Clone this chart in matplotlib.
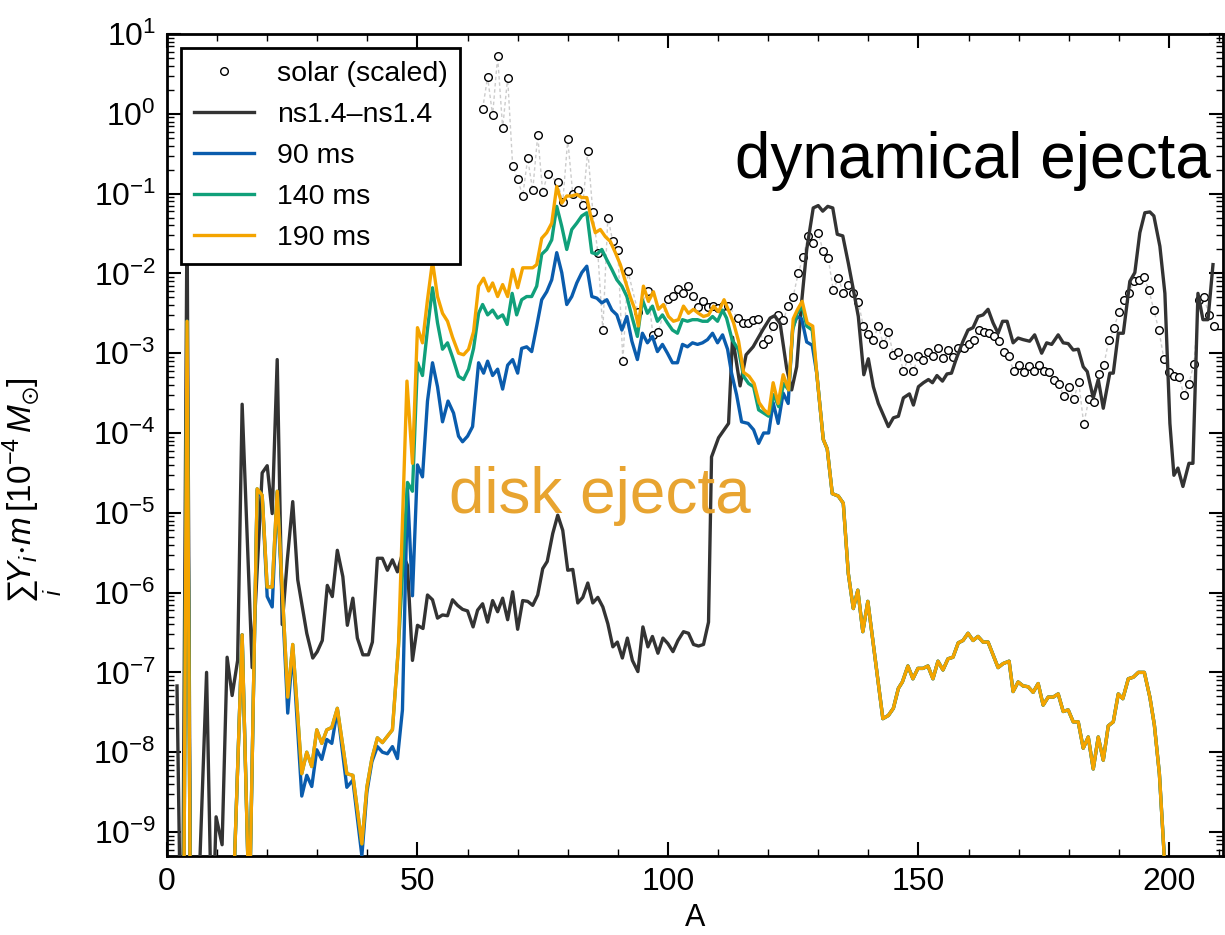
import numpy as np
import matplotlib
matplotlib.use("Agg")
import matplotlib.pyplot as plt
from matplotlib.ticker import MultipleLocator, LogLocator, NullFormatter

plt.rcParams['font.family'] = 'Liberation Sans'
plt.rcParams['mathtext.fontset'] = 'custom'
plt.rcParams['mathtext.rm'] = 'Liberation Sans'
plt.rcParams['mathtext.it'] = 'Liberation Sans:italic'
plt.rcParams['mathtext.bf'] = 'Liberation Sans:bold'
plt.rcParams['mathtext.fallback'] = 'stixsans'

# ---- abundance data (log10 of summed yields) ----
# solar r-process pattern, scaled
solar_A = [63, 64, 65, 66, 67, 68, 69, 70, 71, 72, 73, 74, 75, 76, 78, 79, 80, 81, 82, 83,
           84, 85, 86, 87, 88, 89, 90, 91, 92, 94, 96, 97, 98, 100, 101, 102, 103, 104, 105,
           106, 107, 108, 109, 110, 111, 112, 114, 115, 116, 117, 118, 119, 120, 121, 122,
           123, 124, 125, 126, 127, 128, 129, 130, 131, 132, 133, 134, 135, 136, 137, 138,
           139, 140, 141, 142, 143, 144, 145, 146, 147, 148, 149, 150, 151, 152, 153, 154,
           155, 156, 157, 158, 159, 160, 161, 162, 163, 164, 165, 166, 167, 168, 169, 170,
           171, 172, 173, 174, 175, 176, 177, 178, 179, 180, 181, 182, 183, 184, 185, 186,
           187, 188, 189, 190, 191, 192, 193, 194, 195, 196, 197, 198, 199, 200, 201, 202,
           203, 204, 205, 206, 207, 208, 209]
solar_logy = [0.06, 0.46, -0.02, 0.72, -0.18, 0.45, -0.65, -0.82, -1.03, -0.56, -0.96, -0.27,
              -0.98, -0.75, -0.86, -1.11, -0.32, -1.01, -0.95, -1.14, -0.46, -1.23, -1.74,
              -2.71, -1.30, -1.60, -1.71, -3.10, -1.97, -2.48, -2.22, -2.77, -2.74, -2.32,
              -2.28, -2.20, -2.25, -2.16, -2.28, -2.42, -2.34, -2.42, -2.41, -2.43, -2.41,
              -2.41, -2.56, -2.62, -2.62, -2.59, -2.57, -2.89, -2.82, -2.66, -2.52, -2.59,
              -2.41, -2.29, -2.00, -1.79, -1.53, -1.62, -1.50, -1.72, -1.81, -2.21, -2.06,
              -2.24, -2.14, -2.25, -2.36, -2.66, -2.76, -2.83, -2.66, -2.89, -2.74, -3.02,
              -2.98, -3.22, -3.06, -3.22, -3.04, -3.09, -2.98, -3.03, -2.94, -3.06, -2.96,
              -3.05, -2.94, -2.94, -2.89, -2.83, -2.71, -2.74, -2.75, -2.79, -2.85, -2.98,
              -3.04, -3.22, -3.15, -3.24, -3.16, -3.22, -3.15, -3.22, -3.23, -3.34, -3.38,
              -3.54, -3.42, -3.58, -3.36, -3.89, -3.58, -3.61, -3.26, -3.15, -2.84, -2.69,
              -2.49, -2.33, -2.25, -2.10, -2.08, -2.05, -2.21, -2.46, -2.71, -3.07, -3.23,
              -3.29, -3.30, -3.52, -3.38, -3.13, -2.33, -2.30, -2.52, -2.66]

# dynamical ejecta, ns1.4-ns1.4
ns_A = [2.0, 3.0, 4.0, 5.0, 6.2, 7.9, 9.0, 9.8, 11.0, 12.0, 13.0, 14.1, 15.0, 17.0, 19.0,
        20.0, 21.0, 22.0, 23.0, 24.0, 25.1, 26.1, 27.9, 29.1, 30.0, 31.0, 32.0, 33.0, 34.0,
        35.1, 36.0, 37.1, 38.0, 39.1, 40.2, 41.0, 42.0, 43.0, 44.0, 45.0, 46.0, 47.0, 48.0,
        49.0, 50.0, 51.1, 52.0, 53.0, 54.0, 55.0, 56.0, 57.0, 58.0, 59.0, 60.0, 61.1, 62.0,
        63.0, 64.0, 65.0, 66.0, 67.0, 68.0, 69.0, 70.0, 71.0, 72.0, 73.0, 74.0, 75.0, 75.9,
        77.0, 78.0, 79.0, 80.0, 81.0, 82.0, 83.0, 84.0, 85.0, 86.0, 87.0, 88.0, 89.0, 89.9,
        90.9, 91.9, 92.9, 94.0, 95.0, 96.0, 96.9, 98.0, 99.0, 100.0, 101.0, 102.0, 103.1,
        104.1, 105.1, 106.1, 107.1, 108.1, 108.7, 110.1, 112.1, 112.9, 114.4, 115.6, 117.0,
        119.0, 120.4, 121.3, 122.4, 123.7, 124.7, 125.7, 126.7, 127.7, 129.0, 130.0, 130.9,
        131.9, 132.9, 133.8, 134.9, 136.0, 137.0, 138.0, 139.1, 140.0, 141.0, 142.0, 144.0,
        145.0, 146.0, 147.0, 148.2, 149.0, 150.0, 151.0, 152.0, 152.8, 153.7, 154.8, 155.7,
        156.6, 157.5, 158.9, 159.9, 160.9, 161.9, 162.9, 163.9, 164.9, 165.9, 166.8, 167.7,
        168.9, 169.9, 170.9, 172.2, 173.2, 174.6, 175.6, 176.6, 177.9, 178.9, 179.9, 180.9,
        181.9, 182.9, 183.7, 184.9, 185.9, 186.9, 188.2, 188.9, 189.9, 190.9, 192.2, 193.2,
        194.2, 195.2, 196.2, 197.0, 198.2, 199.2, 200.2, 201.0, 201.8, 202.8, 204.0, 204.8,
        205.8, 206.8, 207.8, 208.8]
ns_logy = [-7.17, -11.5, -1.2, -14.0, -10.0, -7.0, -10.5, -8.81, -9.16, -6.81, -7.29, -6.85,
           -3.64, -6.94, -4.50, -4.41, -5.01, -3.08, -6.4, -5.6, -4.86, -5.84, -6.51, -6.82,
           -6.74, -6.60, -5.91, -6.05, -5.47, -5.80, -6.41, -6.07, -6.57, -6.78, -6.78, -6.62,
           -5.57, -5.57, -5.72, -5.59, -5.74, -5.51, -5.66, -6.85, -6.41, -6.45, -6.03, -6.09,
           -6.32, -6.28, -6.29, -6.09, -6.16, -6.21, -6.23, -6.43, -6.22, -6.14, -6.37, -6.10,
           -6.24, -6.07, -6.34, -5.99, -6.46, -6.10, -6.11, -6.16, -6.03, -5.70, -5.61, -5.26,
           -5.03, -5.22, -5.72, -5.71, -6.13, -6.06, -5.88, -6.13, -6.06, -6.18, -6.39, -6.68,
           -6.62, -6.82, -6.57, -6.85, -6.99, -6.43, -6.68, -6.55, -6.76, -6.57, -6.64, -6.74,
           -6.60, -6.49, -6.51, -6.65, -6.67, -6.65, -6.37, -4.30, -4.06, -3.88, -2.80, -3.41,
           -3.02, -2.92, -2.70, -2.56, -2.53, -2.63, -3.19, -3.46, -3.17, -2.35, -1.70, -1.18,
           -1.15, -1.22, -1.16, -1.18, -1.51, -1.53, -1.87, -2.20, -2.54, -3.27, -3.07, -3.42,
           -3.63, -3.92, -3.81, -3.79, -3.56, -3.51, -3.65, -3.42, -3.37, -3.33, -3.37, -3.28,
           -3.35, -3.26, -3.25, -3.08, -2.85, -2.71, -2.68, -2.54, -2.52, -2.45, -2.62, -2.75,
           -2.60, -2.60, -2.87, -2.81, -2.83, -2.85, -2.77, -3.00, -2.87, -2.89, -2.77, -2.87,
           -2.88, -2.96, -2.95, -3.17, -3.23, -3.56, -3.33, -3.69, -3.25, -3.25, -2.75, -2.75,
           -2.10, -1.99, -1.49, -1.24, -1.23, -1.28, -1.66, -2.25, -3.88, -4.53, -4.44, -4.67,
           -4.38, -4.38, -2.25, -2.58, -2.58, -1.89]

# disk ejecta: light nuclei, shared by 140 ms and 190 ms
head_A = [3.0, 4.0, 5.0, 13.4, 15.0, 16.2, 16.6, 18.0, 19.0, 20.0, 21.0, 22.0, 24.1, 25.1,
          26.9, 27.9, 28.9, 29.9, 30.9, 31.9, 32.9, 34.0, 35.9, 37.1, 38.9, 39.9, 40.9,
          42.0, 43.0, 45.0, 46.2]
head_logy = [-14.0, -2.6, -14.0, -9.5, -6.53, -9.5, -9.5, -4.70, -4.78, -5.93, -5.93, -4.73,
             -7.31, -6.65, -8.27, -8.00, -8.18, -7.72, -7.89, -7.72, -7.69, -7.45, -8.27,
             -8.29, -9.15, -8.44, -8.08, -7.82, -7.88, -7.72, -6.68]

# disk ejecta: heavy tail, identical for all three times
tail_A = [131.0, 131.8, 132.8, 134.0, 135.0, 136.0, 137.0, 137.9, 138.9, 139.9, 142.9, 144.0,
          145.0, 146.0, 146.8, 147.9, 148.9, 149.9, 150.9, 151.9, 152.9, 153.9, 154.9, 155.9,
          156.9, 157.95, 158.9, 159.9, 160.9, 161.9, 162.9, 163.9, 164.9, 165.9, 166.9, 168.1,
          168.9, 169.9, 170.9, 171.9, 172.9, 173.9, 174.9, 175.9, 176.9, 177.9, 178.9, 179.9,
          180.9, 181.9, 182.9, 183.9, 184.9, 185.9, 186.9, 187.9, 188.9, 189.9, 190.8, 191.9,
          192.9, 193.9, 195.1, 196.2, 197.1, 198.1, 199.0, 200.0]
tail_logy = [-4.08, -4.20, -4.76, -4.79, -4.88, -5.76, -6.20, -5.97, -6.49, -6.11, -7.58, -7.54,
             -7.45, -7.20, -7.12, -6.92, -7.08, -6.95, -6.95, -6.92, -7.08, -6.86, -6.97, -6.83,
             -6.81, -6.63, -6.60, -6.51, -6.60, -6.55, -6.62, -6.62, -6.78, -6.94, -6.89, -6.86,
             -7.24, -7.12, -7.17, -7.18, -7.25, -7.14, -7.41, -7.31, -7.31, -7.27, -7.49, -7.47,
             -7.62, -7.62, -7.95, -7.81, -8.21, -7.81, -8.10, -7.67, -7.62, -7.27, -7.33, -7.08,
             -7.06, -7.00, -7.00, -7.31, -7.66, -8.27, -9.23, -11.0]

# 190 ms, A = 47 ... 130
t190_A = [47.9, 49.0, 50.0, 51.0, 52.0, 53.0, 54.0, 55.0, 56.0, 57.0, 58.2, 59.2, 60.2, 61.2,
          62.2, 63.2, 64.2, 65.0, 66.0, 67.0, 68.0, 69.0, 70.0, 71.0, 72.0, 73.0, 73.8, 74.8,
          75.8, 76.8, 77.8, 78.8, 79.8, 80.8, 81.8, 82.8, 83.8, 84.5, 85.5, 86.5, 87.5, 88.5,
          89.5, 90.5, 91.5, 92.5, 93.4, 94.1, 95.1, 96.1, 97.1, 98.1, 99.1, 100.1, 101.1,
          102.1, 103.1, 104.1, 105.1, 106.1, 107.1, 108.1, 109.1, 110.1, 111.2, 112.0, 113.1,
          114.1, 115.1, 116.2, 117.2, 118.2, 119.2, 120.1, 121.0, 122.0, 123.0, 124.1, 125.0,
          125.8, 126.8, 127.8, 128.9, 129.7]
t190_logy = [-3.35, -4.38, -2.68, -2.87, -2.33, -1.85, -2.29, -2.50, -2.60, -2.80, -3.00, -3.02,
             -2.95, -2.73, -2.16, -2.06, -2.22, -2.12, -2.29, -2.14, -2.29, -1.95, -2.18, -1.93,
             -1.93, -1.93, -1.89, -1.56, -1.49, -1.37, -0.91, -1.12, -1.03, -1.03, -1.01, -1.05,
             -1.05, -1.26, -1.49, -1.45, -1.54, -1.60, -1.74, -1.89, -2.10, -2.30, -2.45, -2.66,
             -2.16, -2.35, -2.23, -2.45, -2.39, -2.54, -2.60, -2.58, -2.41, -2.50, -2.45, -2.50,
             -2.54, -2.52, -2.41, -2.48, -2.33, -2.45, -2.62, -2.85, -3.24, -3.29, -3.38, -3.62,
             -3.71, -3.76, -3.37, -3.63, -3.27, -3.46, -2.57, -2.46, -2.35, -2.62, -2.66, -3.25]

# 140 ms, A = 48 ... 130
t140_A = [48.0, 49.0, 50.0, 51.0, 52.0, 53.0, 54.0, 55.0, 56.0, 57.0, 58.2, 59.2, 60.2, 61.2,
          62.2, 63.0, 64.0, 65.0, 66.0, 67.0, 67.9, 68.9, 69.8, 70.8, 71.8, 72.8, 73.8, 74.8,
          75.8, 76.8, 77.8, 78.8, 79.8, 80.8, 81.8, 82.8, 83.8, 84.8, 85.8, 86.8, 87.8, 88.8,
          89.8, 90.8, 91.8, 92.8, 93.9, 94.9, 95.9, 96.9, 97.9, 98.9, 99.9, 100.9, 101.9,
          102.9, 103.9, 104.9, 105.9, 106.9, 107.9, 108.9, 109.9, 110.9, 111.7, 112.8, 114.1,
          115.1, 116.1, 117.1, 118.1, 119.1, 120.1, 121.1, 122.1, 123.1, 124.1, 124.9, 125.8,
          126.8, 127.7, 128.8, 129.7]
t140_logy = [-4.62, -4.73, -3.12, -3.28, -2.70, -2.18, -2.62, -2.95, -2.87, -3.05, -3.29, -3.33,
             -3.20, -2.94, -2.50, -2.39, -2.52, -2.46, -2.56, -2.52, -2.64, -2.25, -2.52, -2.33,
             -2.29, -2.29, -2.16, -1.76, -1.70, -1.58, -1.16, -1.41, -1.70, -1.45, -1.37, -1.28,
             -1.24, -1.74, -1.76, -1.70, -1.83, -1.95, -2.08, -2.16, -2.29, -2.54, -2.79, -2.33,
             -2.50, -2.41, -2.60, -2.52, -2.62, -2.71, -2.75, -2.58, -2.60, -2.58, -2.58, -2.60,
             -2.60, -2.54, -2.60, -2.46, -2.56, -2.83, -2.96, -3.29, -3.38, -3.42, -3.71, -3.75,
             -3.79, -3.52, -3.67, -3.38, -3.46, -2.71, -2.50, -2.41, -2.66, -2.71, -3.25]

# 90 ms, A = 18 ... 130 (the first spikes are shared with the later times)
t90_A = [18.0, 19.0, 20.0, 21.0, 22.0, 24.1, 25.1, 26.9, 27.9, 28.9, 29.9, 30.9, 31.9, 32.9,
         34.0, 35.9, 37.1, 38.9, 39.9, 40.9, 42.0, 43.0, 44.0, 45.0, 46.0, 47.0, 48.0, 49.0,
         50.0, 51.0, 52.0, 53.0, 54.0, 55.0, 56.1, 57.2, 58.2, 59.0, 60.0, 61.0, 62.2, 63.2,
         64.0, 65.0, 66.0, 67.0, 68.0, 69.0, 70.0, 70.8, 71.8, 72.8, 73.8, 74.8, 75.8, 76.8,
         77.8, 78.8, 79.8, 80.8, 81.8, 82.8, 83.8, 84.8, 85.8, 86.8, 87.8, 88.8, 89.8, 90.8,
         91.8, 92.8, 93.9, 94.9, 95.9, 96.9, 97.9, 98.9, 99.9, 100.9, 101.9, 102.9, 103.9,
         104.9, 105.9, 106.9, 107.9, 108.9, 109.9, 110.9, 111.9, 112.7, 113.7, 114.7, 116.0,
         117.1, 118.1, 119.1, 120.1, 121.0, 122.0, 123.0, 124.0, 124.9, 125.8, 126.7, 127.7,
         128.8, 129.7]
t90_logy = [-4.72, -4.80, -6.05, -6.18, -4.75, -7.51, -6.72, -8.55, -8.29, -8.43, -7.97, -8.09,
            -7.84, -7.89, -7.47, -8.44, -8.35, -9.30, -8.50, -8.12, -7.93, -8.00, -8.02, -7.93,
            -8.08, -7.47, -4.69, -6.04, -4.40, -4.55, -3.60, -3.12, -3.42, -3.86, -3.60, -3.75,
            -4.04, -4.11, -4.04, -3.92, -3.12, -3.25, -3.10, -3.28, -3.20, -3.45, -3.15, -3.08,
            -3.25, -2.94, -2.92, -2.98, -2.66, -2.33, -2.23, -2.08, -1.74, -1.99, -2.39, -2.29,
            -2.12, -1.99, -1.91, -2.29, -2.31, -2.37, -2.33, -2.46, -2.52, -2.71, -2.54, -2.85,
            -3.08, -2.75, -2.87, -2.79, -2.98, -2.89, -3.00, -3.12, -3.12, -2.89, -2.92, -2.87,
            -2.89, -2.87, -2.83, -2.75, -2.87, -2.77, -2.95, -3.25, -3.52, -3.86, -3.88, -3.96,
            -4.13, -4.00, -4.00, -3.62, -3.88, -3.50, -3.63, -2.68, -2.54, -2.57, -2.86, -2.90,
            -3.25]

labels = ['solar (scaled)', 'ns1.4\u2013ns1.4', '90 ms', '140 ms', '190 ms']
colors = {'ns': '#333333', '90': '#0a5cad', '140': '#10a07a', '190': '#f4a400'}


def curve(*parts):
    a = np.concatenate([p[0] for p in parts])
    y = np.concatenate([p[1] for p in parts])
    return a, 10.0 ** y


A90, Y90 = curve((head_A[:7], head_logy[:7]), (t90_A, t90_logy), (tail_A, tail_logy))
A140, Y140 = curve((head_A, head_logy), (t140_A, t140_logy), (tail_A, tail_logy))
A190, Y190 = curve((head_A, head_logy), (t190_A, t190_logy), (tail_A, tail_logy))

fig = plt.figure(figsize=(12.25, 9.35), dpi=100)
ax = fig.add_axes([167 / 1225, 1 - 856 / 935, 1056 / 1225, 822 / 935])

solar_y = 10.0 ** np.array(solar_logy)
ax.plot(solar_A, solar_y, ls=(0, (2.5, 2)), color='0.8', lw=1.0, zorder=1)
ax.plot(solar_A, solar_y, ls='none', marker='o', ms=5.5, mfc='white', mec='black',
        mew=1.0, label=labels[0], zorder=2)
ax.plot(ns_A, 10.0 ** np.array(ns_logy), color=colors['ns'], lw=2.4, label=labels[1], zorder=3)
ax.plot(A90, Y90, color=colors['90'], lw=2.4, label=labels[2], zorder=4)
ax.plot(A140, Y140, color=colors['140'], lw=2.4, label=labels[3], zorder=5)
ax.plot(A190, Y190, color=colors['190'], lw=2.4, label=labels[4], zorder=6)

ax.set_yscale('log')
ax.set_xlim(0, 210.8)
ax.set_ylim(5e-10, 10)

ax.xaxis.set_major_locator(MultipleLocator(50))
ax.xaxis.set_minor_locator(MultipleLocator(10))
ax.yaxis.set_major_locator(LogLocator(base=10, numticks=20))
ax.yaxis.set_minor_locator(LogLocator(base=10, subs=np.arange(2, 10), numticks=20))
ax.yaxis.set_minor_formatter(NullFormatter())
ax.tick_params(which='both', direction='in', top=True, right=True, labelsize=23)
ax.tick_params(which='major', length=10, width=1.5, pad=8)
ax.tick_params(which='minor', length=5, width=1.0)
for sp in ax.spines.values():
    sp.set_linewidth(2)

ax.set_xlabel('A', fontsize=22)
ax.set_ylabel(r'$\sum_i Y_i\!\cdot\! m\,[10^{-4}\,M_{\odot}]$', fontsize=24)
ax.yaxis.set_label_coords(-0.097, 0.445)

ax.text(113.4, 10 ** -0.80, 'dynamical ejecta', fontsize=46, color='black',
        ha='left', va='baseline')
ax.text(56.2, 10 ** -5.0, 'disk ejecta', fontsize=46, color='#e8a430',
        ha='left', va='baseline')

leg = ax.legend(loc='upper left', fontsize=20.5, numpoints=1, fancybox=False,
                edgecolor='black', framealpha=1, borderaxespad=0.5, borderpad=0.45,
                handlelength=2.1, handletextpad=0.8, labelspacing=0.53)
leg.get_frame().set_linewidth(2)
leg.set_zorder(10)

fig.savefig('out.png', dpi=100)
